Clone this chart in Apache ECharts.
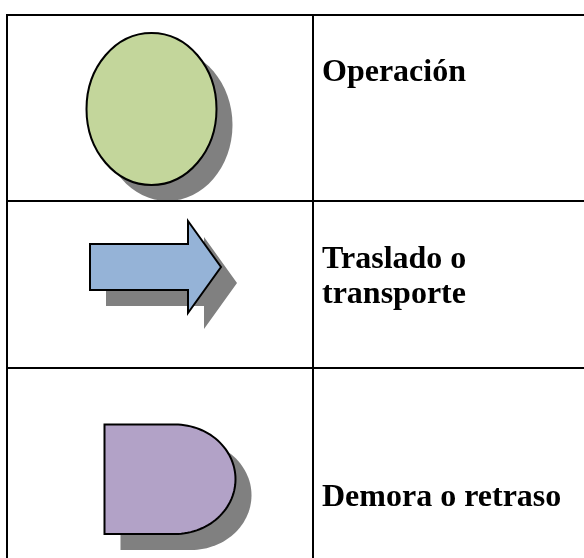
<!DOCTYPE html>
<html><head><meta charset="utf-8">
<style>html,body{margin:0;padding:0;background:#fff}#c{width:584px;height:558px}</style>
<script src="https://cdn.jsdelivr.net/npm/echarts@6/dist/echarts.min.js"></script>
</head><body><div id="c"></div>
<script>
const rowLabels = [["Operación"], ["Traslado o", "transporte"], ["Demora o retraso"]];
const labelTops = [[57], [244], [482]];
const secondLineTop = 279;
const labelX = 322;
const tableColumns = [7, 313];
const tableRows = [15, 201, 368];
const tableEnd = [584, 558];
const ellipseCenter = [151.5, 109];
const ellipseRadii = [65, 76];
const arrowOutline = [[90,244],[188,244],[188,221],[221,267],[188,313],[188,290],[90,290]];
const delayBox = {left:104.5, top:424.5, bottom:534, straightTo:175, right:235.5};
const shadowOffset = 16;
const shadowColor = '#808080', lineColor = '#000';
const fills = {op:'#c3d69b', tr:'#95b3d7', de:'#b2a2c7'};

const chart = echarts.init(document.getElementById('c'), null, {renderer:'canvas'});
function ellipse(api, dx, fill, withStroke){
  const c = api.coord([ellipseCenter[0]+dx, ellipseCenter[1]+dx]);
  return {type:'ellipse', shape:{cx:c[0], cy:c[1], rx:ellipseRadii[0], ry:ellipseRadii[1]},
    style:{fill, stroke:withStroke?lineColor:null, lineWidth:2}};
}
function arrow(api, dx, fill, withStroke){
  return {type:'polygon', shape:{points:arrowOutline.map(p=>api.coord([p[0]+dx,p[1]+dx]))},
    style:{fill, stroke:withStroke?lineColor:null, lineWidth:2, lineJoin:'miter'}};
}
function delay(api, dx, fill, withStroke){
  const d = delayBox, rx = d.right-d.straightTo, ry = (d.bottom-d.top)/2, pts=[];
  pts.push([d.left,d.top],[d.straightTo,d.top]);
  for(let i=1;i<60;i++){const a=-Math.PI/2+Math.PI*i/60; pts.push([d.straightTo+rx*Math.cos(a),d.top+ry+ry*Math.sin(a)]);}
  pts.push([d.straightTo,d.bottom],[d.left,d.bottom]);
  return {type:'polygon', shape:{points:pts.map(p=>api.coord([p[0]+dx,p[1]+dx]))},
    style:{fill, stroke:withStroke?lineColor:null, lineWidth:2, lineJoin:'miter'}};
}
const items = [{k:'shadow'},{k:'shape'},{k:'table'},{k:'text'}];
chart.setOption({
  animation:false,
  backgroundColor:'#fff',
  grid:{left:0,top:0,right:0,bottom:0},
  xAxis:{type:'value',min:0,max:584,show:false},
  yAxis:{type:'value',min:0,max:558,inverse:true,show:false},
  series:[{
    type:'custom', coordinateSystem:'cartesian2d', clip:false, silent:true,
    data:[[0],[1],[2],[3]],
    renderItem(p, api){
      const k = items[p.dataIndex].k;
      if(k==='shadow') return {type:'group',children:[ellipse(api,shadowOffset,shadowColor,false),arrow(api,shadowOffset,shadowColor,false),delay(api,shadowOffset,shadowColor,false)]};
      if(k==='shape') return {type:'group',children:[ellipse(api,0,fills.op,true),arrow(api,0,fills.tr,true),delay(api,0,fills.de,true)]};
      if(k==='table'){
        const ch=[];
        tableRows.forEach(y=>{const a=api.coord([tableColumns[0]-1,y]),b=api.coord([tableEnd[0],y]);
          ch.push({type:'line',shape:{x1:a[0],y1:a[1],x2:b[0],y2:b[1]},style:{stroke:lineColor,lineWidth:2}});});
        tableColumns.forEach(x=>{const a=api.coord([x,tableRows[0]-1]),b=api.coord([x,tableEnd[1]]);
          ch.push({type:'line',shape:{x1:a[0],y1:a[1],x2:b[0],y2:b[1]},style:{stroke:lineColor,lineWidth:2}});});
        return {type:'group',children:ch};
      }
      const ch=[];
      const add=(t,y)=>{const c=api.coord([labelX,y]);
        ch.push({type:'text',style:{text:t,x:c[0],y:c[1],fill:'#000',font:'bold 32px "Liberation Serif"',verticalAlign:'top',align:'left'}});};
      add(rowLabels[0][0],labelTops[0][0]);
      add(rowLabels[1][0],labelTops[1][0]);
      add(rowLabels[1][1],secondLineTop);
      add(rowLabels[2][0],labelTops[2][0]);
      return {type:'group',children:ch};
    }
  }]
});
</script></body></html>
